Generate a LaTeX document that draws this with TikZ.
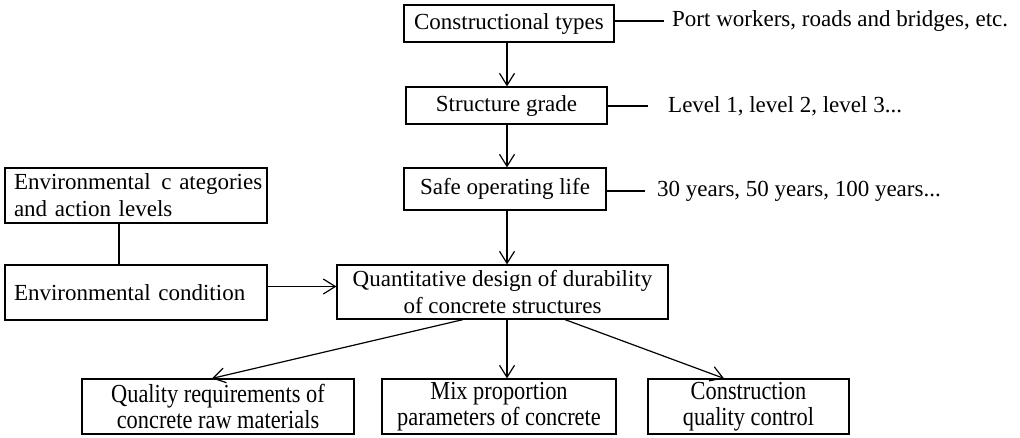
\documentclass[tikz,border=0pt]{standalone}
\usepackage{fontspec}
\setmainfont{Liberation Serif}
\newfontfamily\condfont[FakeStretch=0.86]{Liberation Serif}
\usetikzlibrary{arrows.meta}
\begin{document}
\begin{tikzpicture}[x=1pt,y=-1pt,
  every node/.style={font=\fontsize{23}{27}\selectfont},
  box/.style={draw, line width=1.2pt, inner sep=0pt, align=center},
  cbox/.style={box, font=\condfont\fontsize{26}{25.5}\selectfont},
  lbox/.style={draw, line width=1.2pt, inner ysep=0pt, inner xsep=9pt, align=left, text width=244pt},
  conn/.style={line width=1.2pt},
  arr/.style={conn, -{Straight Barb[length=12pt,width=15pt]}},
  side/.style={inner sep=0pt, anchor=west}]
\useasboundingbox (0,0) rectangle (1020,437);
\coordinate (ax) at (507,0);
% main column
\node[box, minimum width=210pt, minimum height=37pt] (ct) at (509,23.5) {Constructional types};
\node[box, minimum width=201pt, minimum height=37pt] (sg) at (506.5,105.5) {Structure grade};
\node[box, minimum width=202pt, minimum height=42pt] (sol) at (505,189) {Safe operating life};
\node[box, minimum width=331pt, minimum height=54pt] (q) at (502.5,292) {Quantitative design of durability\\of concrete structures};
% side texts
\node[side] (t1) at (672,21) {Port workers, roads and bridges, etc.};
\node[side] (t2) at (668,106) {Level 1, level 2, level 3...};
\node[side] (t3) at (657,191) {30 years, 50 years, 100 years...};
\draw[conn] (ct.east |- t1.west) -- ([xshift=-8pt]t1.west);
\draw[conn] (sg.east |- t2.west) -- ([xshift=-20pt]t2.west);
\draw[conn] (sol.east |- t3.west) -- ([xshift=-12pt]t3.west);
% environment
\node[lbox, minimum height=55pt] (ec) at (136,195.5) {\mbox{Environmental\hspace{3pt} c ategories}\\and action levels};
\node[lbox, minimum height=55pt] (en) at (136,292.5) {Environmental condition};
\draw[conn] ([xshift=-17pt]ec.south) -- ([xshift=-17pt]en.north);
\draw[arr] ([yshift=6pt]en.east) -- ([yshift=6pt]en.east -| q.west);
% vertical arrows
\draw[arr] (ct.south -| ax) -- (sg.north -| ax);
\draw[arr] (sg.south -| ax) -- (sol.north -| ax);
\draw[arr] (sol.south -| ax) -- (q.north -| ax);
% bottom row
\node[cbox, minimum width=272pt, minimum height=55pt] (b1) at (218,406.5) {Quality requirements of\\concrete raw materials};
\node[cbox, minimum width=234pt, minimum height=55pt] (b2) at (499,406.5) {Mix proportion\\parameters of concrete};
\node[cbox, minimum width=201pt, minimum height=55pt] (b3) at (748.5,406.5) {Construction\\quality control};
\draw[arr] ([xshift=-39.5pt]q.south) -- ([xshift=-6pt]b1.north);
\draw[arr] (q.south -| ax) -- (b2.north -| ax);
\draw[arr] ([xshift=62.5pt]q.south) -- ([xshift=-24.5pt]b3.north);
\end{tikzpicture}
\end{document}
